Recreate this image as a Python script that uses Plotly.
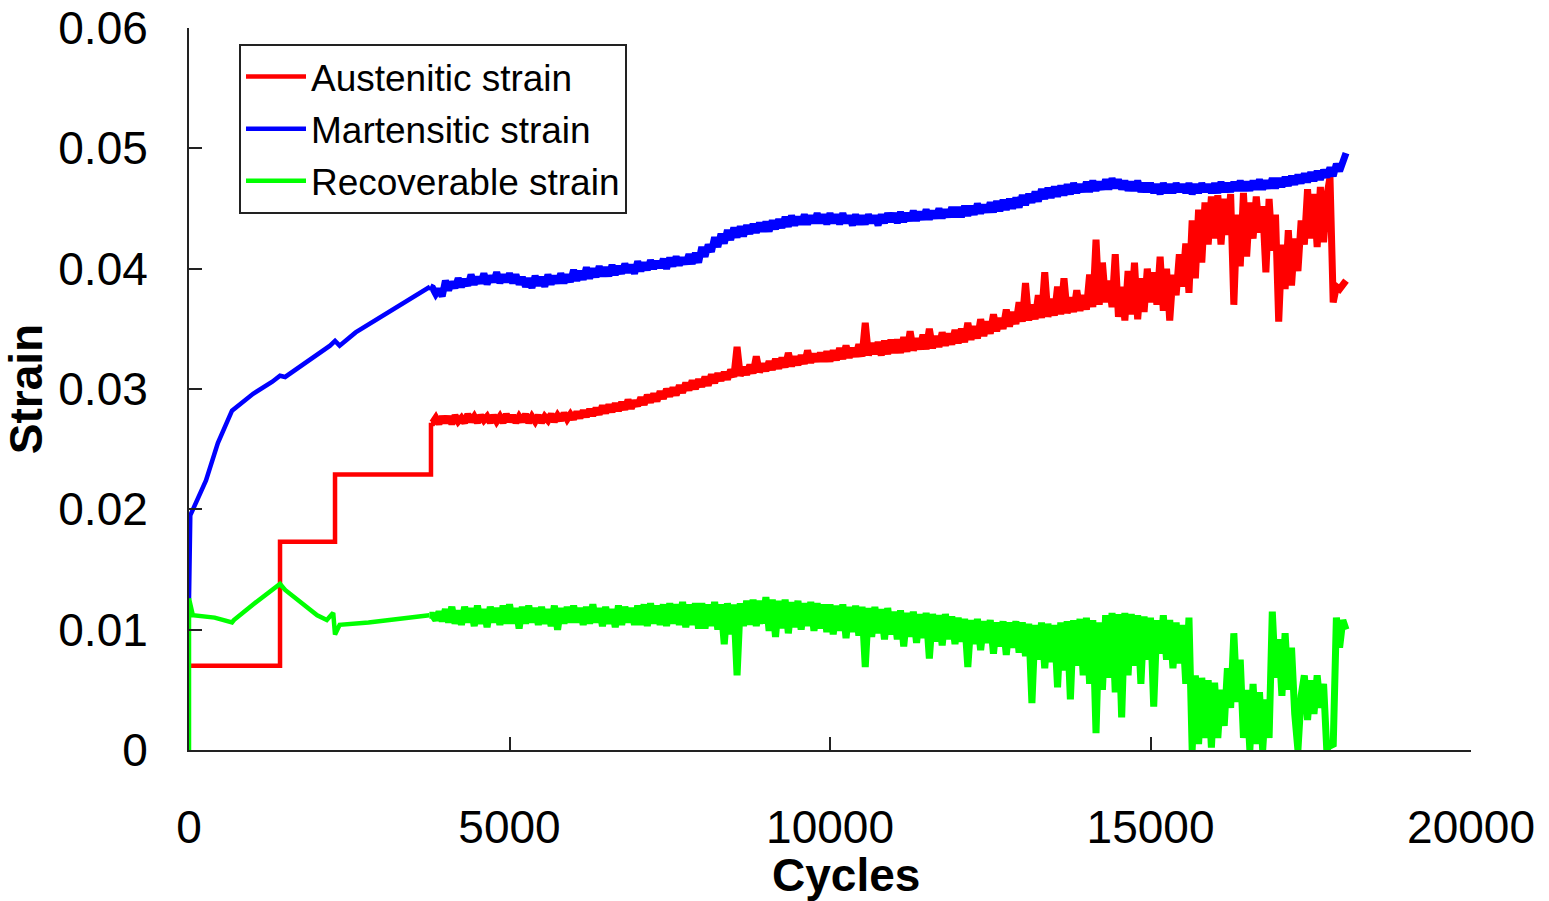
import plotly.graph_objects as go

# ---------------- data ----------------
# early, smooth part of each curve
aus_early_cycles = [0, 1420, 1420, 2278, 2278, 3775, 3775]
aus_early = [0.0070, 0.0070, 0.0173, 0.0173, 0.0229, 0.0229, 0.0272]

mart_early_cycles = [0, 20, 265, 450, 671, 1000, 1300, 1420, 1500, 2000, 2200, 2278,
                     2350, 2600, 3000, 3400, 3760]
mart_early = [0.0125, 0.0195, 0.0224, 0.0255, 0.0282, 0.0296, 0.0306, 0.0311, 0.0310,
              0.0328, 0.0336, 0.0340, 0.0336, 0.0347, 0.0360, 0.0373, 0.0385]

rec_early_cycles = [0, 0, 60, 400, 671, 700, 1000, 1420, 1500, 2000, 2150, 2250, 2278,
                    2350, 2800, 3400, 3750]
rec_early = [0.0000, 0.0126, 0.0112, 0.0110, 0.0106, 0.0108, 0.0121, 0.0138, 0.0133,
             0.0112, 0.0108, 0.0114, 0.0096, 0.0104, 0.0106, 0.0110, 0.0112]

# noisy part, sampled every 50 cycles
noisy_cycles = [
    3800, 3850, 3900, 3950,
    4000, 4050, 4100, 4150, 4200, 4250, 4300, 4350, 4400, 4450,
    4500, 4550, 4600, 4650, 4700, 4750, 4800, 4850, 4900, 4950,
    5000, 5050, 5100, 5150, 5200, 5250, 5300, 5350, 5400, 5450,
    5500, 5550, 5600, 5650, 5700, 5750, 5800, 5850, 5900, 5950,
    6000, 6050, 6100, 6150, 6200, 6250, 6300, 6350, 6400, 6450,
    6500, 6550, 6600, 6650, 6700, 6750, 6800, 6850, 6900, 6950,
    7000, 7050, 7100, 7150, 7200, 7250, 7300, 7350, 7400, 7450,
    7500, 7550, 7600, 7650, 7700, 7750, 7800, 7850, 7900, 7950,
    8000, 8050, 8100, 8150, 8200, 8250, 8300, 8350, 8400, 8450,
    8500, 8550, 8600, 8650, 8700, 8750, 8800, 8850, 8900, 8950,
    9000, 9050, 9100, 9150, 9200, 9250, 9300, 9350, 9400, 9450,
    9500, 9550, 9600, 9650, 9700, 9750, 9800, 9850, 9900, 9950,
    10000, 10050, 10100, 10150, 10200, 10250, 10300, 10350, 10400, 10450,
    10500, 10550, 10600, 10650, 10700, 10750, 10800, 10850, 10900, 10950,
    11000, 11050, 11100, 11150, 11200, 11250, 11300, 11350, 11400, 11450,
    11500, 11550, 11600, 11650, 11700, 11750, 11800, 11850, 11900, 11950,
    12000, 12050, 12100, 12150, 12200, 12250, 12300, 12350, 12400, 12450,
    12500, 12550, 12600, 12650, 12700, 12750, 12800, 12850, 12900, 12950,
    13000, 13050, 13100, 13150, 13200, 13250, 13300, 13350, 13400, 13450,
    13500, 13550, 13600, 13650, 13700, 13750, 13800, 13850, 13900, 13950,
    14000, 14050, 14100, 14150, 14200, 14250, 14300, 14350, 14400, 14450,
    14500, 14550, 14600, 14650, 14700, 14750, 14800, 14850, 14900, 14950,
    15000, 15050, 15100, 15150, 15200, 15250, 15300, 15350, 15400, 15450,
    15500, 15550, 15600, 15650, 15700, 15750, 15800, 15850, 15900, 15950,
    16000, 16050, 16100, 16150, 16200, 16250, 16300, 16350, 16400, 16450,
    16500, 16550, 16600, 16650, 16700, 16750, 16800, 16850, 16900, 16950,
    17000, 17050, 17100, 17150, 17200, 17250, 17300, 17350, 17400, 17450,
    17500, 17550, 17600, 17650, 17700, 17750, 17800, 17850, 17900, 17950,
    18000, 18050,
]

aus_noisy = [
    0.0272, 0.0276, 0.0271, 0.0277,
    0.0272, 0.0277, 0.0271, 0.0278, 0.0273, 0.0276, 0.0272, 0.0279, 0.0273, 0.0277,
    0.0272, 0.0278, 0.0274, 0.0277, 0.0272, 0.0278, 0.0273, 0.0277, 0.0272, 0.0279,
    0.0273, 0.0278, 0.0272, 0.0277, 0.0273, 0.0279, 0.0272, 0.0277, 0.0273, 0.0278,
    0.0272, 0.0277, 0.0274, 0.0279, 0.0273, 0.0278, 0.0274, 0.0280, 0.0275, 0.0279,
    0.0275, 0.0281, 0.0276, 0.0282, 0.0277, 0.0283, 0.0278, 0.0284, 0.0279, 0.0286,
    0.0280, 0.0287, 0.0281, 0.0288, 0.0282, 0.0289, 0.0283, 0.0291, 0.0284, 0.0290,
    0.0286, 0.0293, 0.0287, 0.0295, 0.0289, 0.0296, 0.0290, 0.0298, 0.0292, 0.0300,
    0.0294, 0.0301, 0.0295, 0.0303, 0.0297, 0.0305, 0.0299, 0.0307, 0.0300, 0.0308,
    0.0302, 0.0310, 0.0303, 0.0312, 0.0305, 0.0313, 0.0307, 0.0314, 0.0308, 0.0316,
    0.0310, 0.0335, 0.0311, 0.0318, 0.0312, 0.0320, 0.0313, 0.0327, 0.0314, 0.0321,
    0.0315, 0.0323, 0.0316, 0.0325, 0.0317, 0.0326, 0.0318, 0.0330, 0.0319, 0.0327,
    0.0320, 0.0328, 0.0321, 0.0332, 0.0322, 0.0329, 0.0323, 0.0330, 0.0323, 0.0331,
    0.0323, 0.0332, 0.0324, 0.0334, 0.0325, 0.0336, 0.0326, 0.0334, 0.0327, 0.0337,
    0.0327, 0.0355, 0.0328, 0.0338, 0.0329, 0.0339, 0.0328, 0.0340, 0.0329, 0.0341,
    0.0330, 0.0341, 0.0330, 0.0343, 0.0331, 0.0348, 0.0332, 0.0342, 0.0333, 0.0345,
    0.0333, 0.0350, 0.0334, 0.0344, 0.0335, 0.0347, 0.0336, 0.0346, 0.0337, 0.0349,
    0.0338, 0.0350, 0.0339, 0.0355, 0.0341, 0.0352, 0.0342, 0.0358, 0.0344, 0.0356,
    0.0346, 0.0362, 0.0348, 0.0359, 0.0350, 0.0366, 0.0352, 0.0364, 0.0354, 0.0372,
    0.0356, 0.0388, 0.0357, 0.0370, 0.0358, 0.0378, 0.0359, 0.0397, 0.0360, 0.0375,
    0.0361, 0.0385, 0.0362, 0.0392, 0.0363, 0.0376, 0.0364, 0.0382, 0.0365, 0.0378,
    0.0366, 0.0395, 0.0368, 0.0424, 0.0370, 0.0405, 0.0372, 0.0390, 0.0368, 0.0412,
    0.0360, 0.0385, 0.0357, 0.0398, 0.0362, 0.0405, 0.0358, 0.0392, 0.0364, 0.0400,
    0.0372, 0.0397, 0.0370, 0.0410, 0.0365, 0.0400, 0.0357, 0.0395, 0.0378, 0.0412,
    0.0385, 0.0421, 0.0380, 0.0440, 0.0392, 0.0449, 0.0405, 0.0455, 0.0420, 0.0460,
    0.0425, 0.0461, 0.0420, 0.0458, 0.0428, 0.0462, 0.0370, 0.0445, 0.0402, 0.0463,
    0.0410, 0.0455, 0.0425, 0.0460, 0.0430, 0.0452, 0.0397, 0.0458, 0.0415, 0.0445,
    0.0356, 0.0420, 0.0383, 0.0432, 0.0386, 0.0425, 0.0398, 0.0440, 0.0420, 0.0466,
    0.0425, 0.0462, 0.0418, 0.0468, 0.0422, 0.0460, 0.0476, 0.0372, 0.0385, 0.0383,
    0.0388, 0.0390,
]

mart_noisy = [
    0.0384, 0.0379, 0.0383, 0.0377,
    0.0390, 0.0382, 0.0389, 0.0384, 0.0392, 0.0385, 0.0391, 0.0386, 0.0395, 0.0387,
    0.0393, 0.0388, 0.0396, 0.0387, 0.0394, 0.0389, 0.0397, 0.0388, 0.0395, 0.0389,
    0.0396, 0.0388, 0.0395, 0.0387, 0.0393, 0.0385, 0.0392, 0.0384, 0.0394, 0.0386,
    0.0393, 0.0385, 0.0395, 0.0387, 0.0394, 0.0388, 0.0396, 0.0388, 0.0395, 0.0389,
    0.0399, 0.0390, 0.0398, 0.0391, 0.0401, 0.0392, 0.0400, 0.0393, 0.0402, 0.0394,
    0.0401, 0.0394, 0.0403, 0.0395, 0.0402, 0.0396, 0.0404, 0.0397, 0.0403, 0.0396,
    0.0406, 0.0398, 0.0405, 0.0399, 0.0407, 0.0400, 0.0406, 0.0401, 0.0408, 0.0400,
    0.0409, 0.0402, 0.0410, 0.0403, 0.0409, 0.0404, 0.0412, 0.0404, 0.0413, 0.0405,
    0.0418, 0.0410, 0.0420, 0.0414, 0.0426, 0.0418, 0.0429, 0.0421, 0.0432, 0.0424,
    0.0434, 0.0426, 0.0435, 0.0427, 0.0436, 0.0429, 0.0437, 0.0430, 0.0438, 0.0431,
    0.0439, 0.0431, 0.0440, 0.0433, 0.0441, 0.0434, 0.0443, 0.0435, 0.0444, 0.0436,
    0.0443, 0.0437, 0.0445, 0.0437, 0.0444, 0.0438, 0.0446, 0.0438, 0.0445, 0.0437,
    0.0446, 0.0438, 0.0445, 0.0437, 0.0446, 0.0438, 0.0444, 0.0436, 0.0445, 0.0437,
    0.0444, 0.0437, 0.0445, 0.0438, 0.0444, 0.0436, 0.0445, 0.0438, 0.0446, 0.0439,
    0.0446, 0.0438, 0.0447, 0.0439, 0.0446, 0.0440, 0.0448, 0.0440, 0.0447, 0.0441,
    0.0449, 0.0441, 0.0448, 0.0442, 0.0450, 0.0442, 0.0449, 0.0443, 0.0451, 0.0443,
    0.0451, 0.0443, 0.0452, 0.0444, 0.0452, 0.0445, 0.0454, 0.0446, 0.0453, 0.0447,
    0.0455, 0.0447, 0.0456, 0.0448, 0.0457, 0.0449, 0.0458, 0.0450, 0.0459, 0.0451,
    0.0461, 0.0453, 0.0462, 0.0455, 0.0464, 0.0456, 0.0466, 0.0458, 0.0467, 0.0459,
    0.0468, 0.0460, 0.0469, 0.0461, 0.0470, 0.0462, 0.0471, 0.0463, 0.0470, 0.0464,
    0.0472, 0.0464, 0.0473, 0.0465, 0.0472, 0.0466, 0.0474, 0.0466, 0.0475, 0.0467,
    0.0474, 0.0466, 0.0473, 0.0465, 0.0472, 0.0465, 0.0473, 0.0464, 0.0471, 0.0464,
    0.0471, 0.0463, 0.0470, 0.0462, 0.0471, 0.0463, 0.0470, 0.0463, 0.0471, 0.0464,
    0.0470, 0.0463, 0.0471, 0.0462, 0.0470, 0.0463, 0.0471, 0.0464, 0.0470, 0.0463,
    0.0471, 0.0463, 0.0472, 0.0464, 0.0471, 0.0464, 0.0472, 0.0465, 0.0473, 0.0465,
    0.0472, 0.0465, 0.0473, 0.0466, 0.0474, 0.0466, 0.0473, 0.0467, 0.0475, 0.0467,
    0.0475, 0.0468, 0.0476, 0.0469, 0.0477, 0.0470, 0.0478, 0.0471, 0.0479, 0.0472,
    0.0480, 0.0473, 0.0481, 0.0474, 0.0482, 0.0476, 0.0484, 0.0477, 0.0487, 0.0481,
    0.0491, 0.0496,
]

rec_noisy = [
    0.0112, 0.0108, 0.0115, 0.0107,
    0.0117, 0.0106, 0.0119, 0.0105, 0.0116, 0.0104, 0.0119, 0.0106, 0.0118, 0.0103,
    0.0120, 0.0105, 0.0117, 0.0102, 0.0119, 0.0106, 0.0118, 0.0104, 0.0120, 0.0105,
    0.0121, 0.0105, 0.0118, 0.0101, 0.0119, 0.0105, 0.0120, 0.0106, 0.0118, 0.0104,
    0.0119, 0.0105, 0.0117, 0.0103, 0.0120, 0.0100, 0.0118, 0.0105, 0.0119, 0.0106,
    0.0120, 0.0106, 0.0118, 0.0104, 0.0119, 0.0105, 0.0121, 0.0106, 0.0118, 0.0103,
    0.0119, 0.0105, 0.0117, 0.0102, 0.0120, 0.0104, 0.0119, 0.0106, 0.0118, 0.0104,
    0.0120, 0.0104, 0.0121, 0.0103, 0.0122, 0.0105, 0.0120, 0.0104, 0.0121, 0.0103,
    0.0122, 0.0105, 0.0121, 0.0104, 0.0123, 0.0102, 0.0121, 0.0104, 0.0122, 0.0101,
    0.0122, 0.0101, 0.0121, 0.0103, 0.0123, 0.0100, 0.0121, 0.0088, 0.0122, 0.0096,
    0.0121, 0.0062, 0.0122, 0.0103, 0.0124, 0.0104, 0.0125, 0.0103, 0.0124, 0.0105,
    0.0127, 0.0099, 0.0125, 0.0094, 0.0124, 0.0101, 0.0125, 0.0097, 0.0123, 0.0102,
    0.0124, 0.0100, 0.0122, 0.0103, 0.0123, 0.0099, 0.0122, 0.0101, 0.0121, 0.0098,
    0.0121, 0.0096, 0.0120, 0.0099, 0.0121, 0.0093, 0.0119, 0.0098, 0.0120, 0.0095,
    0.0119, 0.0069, 0.0118, 0.0094, 0.0119, 0.0097, 0.0117, 0.0092, 0.0118, 0.0096,
    0.0115, 0.0092, 0.0116, 0.0086, 0.0114, 0.0094, 0.0115, 0.0089, 0.0113, 0.0093,
    0.0114, 0.0076, 0.0113, 0.0090, 0.0112, 0.0087, 0.0113, 0.0092, 0.0111, 0.0088,
    0.0110, 0.0090, 0.0109, 0.0069, 0.0108, 0.0088, 0.0109, 0.0083, 0.0107, 0.0089,
    0.0108, 0.0080, 0.0106, 0.0086, 0.0107, 0.0079, 0.0106, 0.0085, 0.0107, 0.0081,
    0.0106, 0.0078, 0.0105, 0.0039, 0.0104, 0.0075, 0.0106, 0.0068, 0.0105, 0.0073,
    0.0104, 0.0052, 0.0106, 0.0066, 0.0107, 0.0042, 0.0108, 0.0070, 0.0109, 0.0062,
    0.0110, 0.0055, 0.0108, 0.0014, 0.0106, 0.0050, 0.0112, 0.0060, 0.0114, 0.0048,
    0.0113, 0.0027, 0.0114, 0.0062, 0.0113, 0.0070, 0.0112, 0.0055, 0.0111, 0.0075,
    0.0110, 0.0036, 0.0108, 0.0080, 0.0112, 0.0075, 0.0108, 0.0068, 0.0106, 0.0072,
    0.0104, 0.0055, 0.0110, 0.0000, 0.0062, 0.0005, 0.0060, 0.0010, 0.0058, 0.0002,
    0.0056, 0.0010, 0.0050, 0.0020, 0.0068, 0.0035, 0.0097, 0.0040, 0.0075, 0.0010,
    0.0050, 0.0000, 0.0055, 0.0005, 0.0048, 0.0000, 0.0042, 0.0010, 0.0115, 0.0060,
    0.0092, 0.0045, 0.0097, 0.0050, 0.0085, 0.0030, 0.0000, 0.0045, 0.0062, 0.0025,
    0.0058, 0.0030, 0.0062, 0.0035, 0.0055, 0.0000, 0.0005, 0.0003, 0.0110, 0.0085,
    0.0108, 0.0100,
]

series_names = ["Austenitic strain", "Martensitic strain", "Recoverable strain"]
series_colors = ["#FF0000", "#0000FF", "#00FF00"]

x_ticks = [0, 5000, 10000, 15000, 20000]
y_ticks = [0, 0.01, 0.02, 0.03, 0.04, 0.05, 0.06]

# ---------------- figure ----------------
FONT = "Liberation Sans, Arial, sans-serif"
AXIS_COLOR = "#222222"

fig = go.Figure()
early_x = [aus_early_cycles, mart_early_cycles, rec_early_cycles]
early_y = [aus_early, mart_early, rec_early]
noisy_y = [aus_noisy, mart_noisy, rec_noisy]

for name, color, ex, ey, ny in zip(series_names, series_colors, early_x, early_y, noisy_y):
    # smooth early part (shown in the legend)
    fig.add_trace(go.Scatter(x=ex, y=ey, mode="lines", name=name, legendgroup=name,
                             line=dict(color=color, width=4.5)))
    # noisy part of the same series, drawn as a dense band
    fig.add_trace(go.Scatter(x=[ex[-1]] + noisy_cycles, y=[ey[-1]] + ny, mode="lines",
                             name=name, legendgroup=name, showlegend=False,
                             line=dict(color=color, width=7)))

fig.update_layout(
    width=1549, height=901,
    margin=dict(l=189, r=78, t=28, b=151, autoexpand=False),
    paper_bgcolor="white", plot_bgcolor="white",
    font=dict(family=FONT, color="black"),
    showlegend=True,
    legend=dict(
        x=0.039, y=0.9778, xanchor="left", yanchor="top",
        font=dict(family=FONT, size=37, color="black"),
        bgcolor="white", bordercolor=AXIS_COLOR, borderwidth=2,
        tracegroupgap=1, itemwidth=60,
    ),
    xaxis=dict(
        range=[0, 20000], tickvals=x_ticks, tickformat="d",
        showgrid=False, zeroline=False, automargin=False,
        showline=True, linecolor=AXIS_COLOR, linewidth=2,
        ticks="inside", ticklen=13, tickwidth=2, tickcolor=AXIS_COLOR,
        tickfont=dict(family=FONT, size=46, color="black"),
        ticklabelstandoff=36,
    ),
    yaxis=dict(
        range=[0, 0.06], tickvals=y_ticks,
        showgrid=False, zeroline=False, automargin=False,
        showline=True, linecolor=AXIS_COLOR, linewidth=2,
        ticks="inside", ticklen=13, tickwidth=2, tickcolor=AXIS_COLOR,
        tickfont=dict(family=FONT, size=46, color="black"),
        ticklabelstandoff=30,
        title=dict(text="Strain", standoff=4,
                   font=dict(family=FONT, size=46, color="black", weight="bold")),
    ),
    annotations=[dict(
        text="Cycles", xref="paper", yref="paper", x=0.5125, y=-0.173,
        xanchor="center", yanchor="middle", showarrow=False,
        font=dict(family=FONT, size=46, color="black", weight="bold"),
    )],
)

fig.write_html(
    "out.html",
    config={"displayModeBar": False},
    post_script="document.body.style.margin='0px';document.body.style.overflow='hidden';",
)
